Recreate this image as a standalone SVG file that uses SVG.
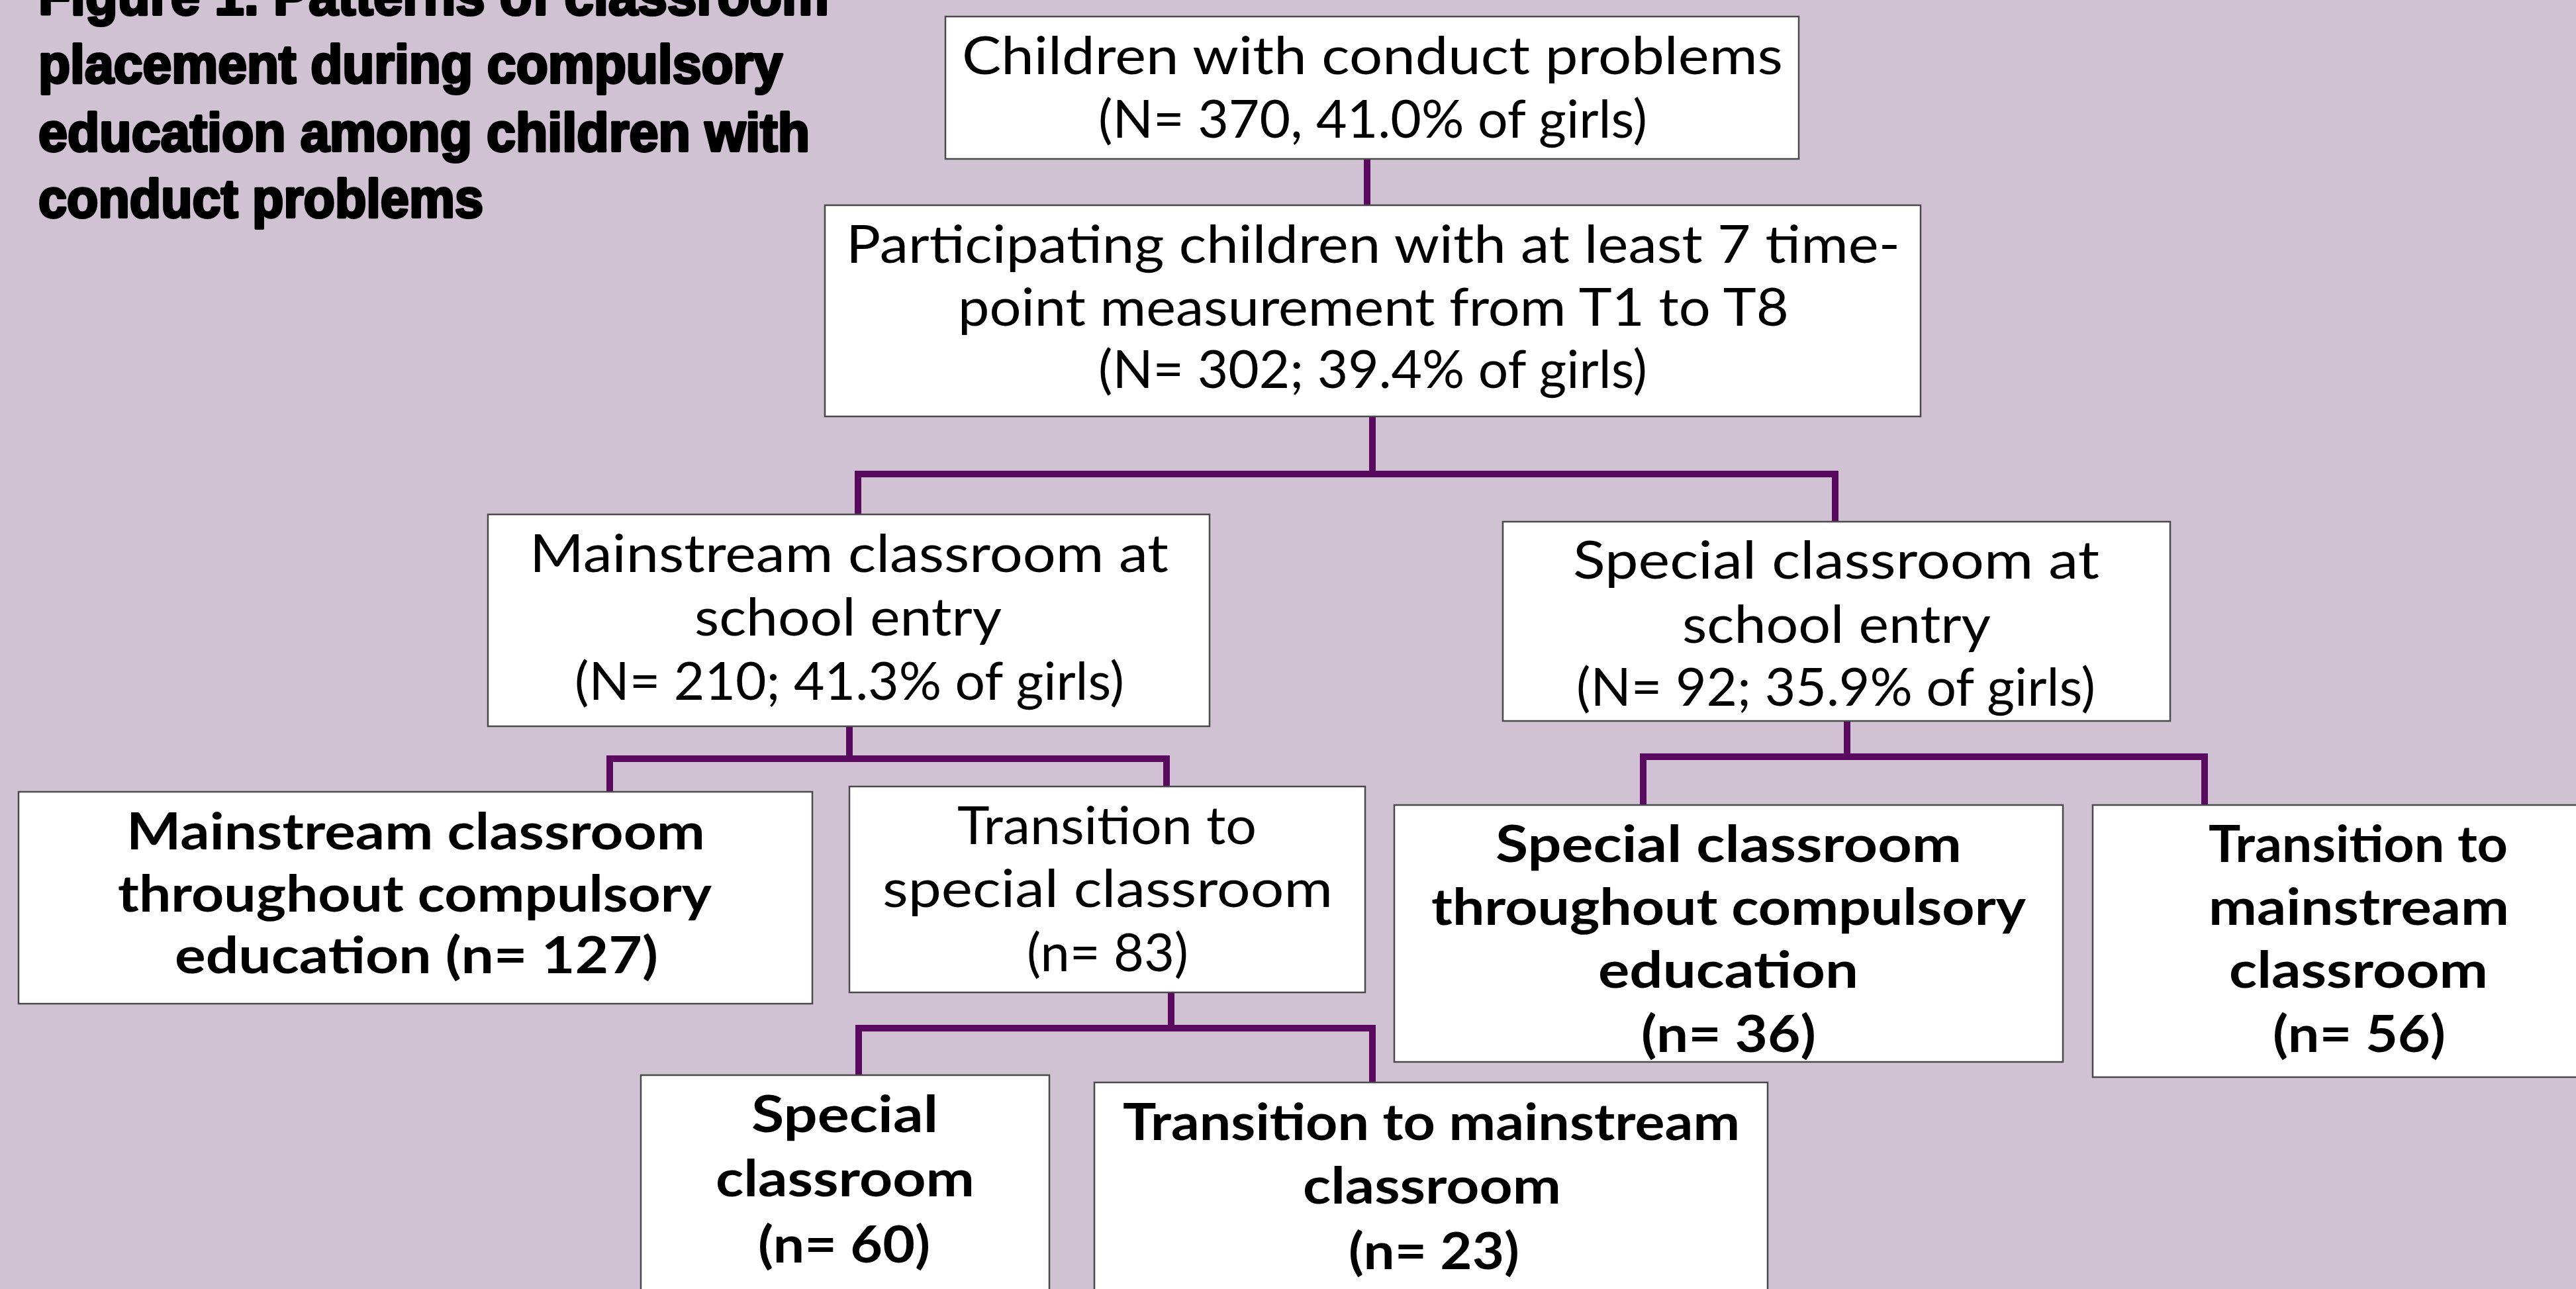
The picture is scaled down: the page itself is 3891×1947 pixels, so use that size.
<svg xmlns="http://www.w3.org/2000/svg" width="3891" height="1947" viewBox="0 0 3891 1947">
  <style>
    .bg { fill: #d1c2d3; }
    .box { fill: #ffffff; stroke: #4a4a4a; stroke-width: 2.5; }
    .reg { font-family: "Lato", "DejaVu Sans", sans-serif; font-weight: 400; font-size: 80px; fill: #000; }
    .bold { font-family: "Lato", "DejaVu Sans", sans-serif; font-weight: 700; font-size: 76px; fill: #000; }
    .title { font-family: "Liberation Sans Narrow", "Liberation Sans", sans-serif; font-weight: 700; font-size: 82px; fill: #000; stroke: #000; stroke-width: 4; stroke-linejoin: round; }
    .link { fill: none; stroke: #5a0a5e; stroke-width: 10; stroke-linejoin: miter; stroke-linecap: butt; }
  </style>

  <rect class="bg" x="0" y="0" width="3891" height="1947"/>

  <!-- Figure caption (first line runs off the top edge) -->
  <g id="title">
    <text class="title" x="58" y="22" textLength="1194" lengthAdjust="spacingAndGlyphs">Figure 1. Patterns of classroom</text>
    <text class="title" x="58" y="125" textLength="1124" lengthAdjust="spacingAndGlyphs">placement during compulsory</text>
    <text class="title" x="58" y="228" textLength="1165" lengthAdjust="spacingAndGlyphs">education among children with</text>
    <text class="title" x="58" y="328" textLength="672" lengthAdjust="spacingAndGlyphs">conduct problems</text>
  </g>

  <!-- Elbow connectors between levels -->
  <g id="connectors">
    <path class="link" d="M2065 240 V310"/>
    <path class="link" d="M2073 629 V716"/>
    <path class="link" d="M1296 777 V716 H2772 V788"/>
    <path class="link" d="M1283 1097 V1146"/>
    <path class="link" d="M921 1196 V1146 H1762 V1188"/>
    <path class="link" d="M2790 1089 V1143"/>
    <path class="link" d="M2482 1216 V1143 H3330 V1216"/>
    <path class="link" d="M1769 1499 V1553"/>
    <path class="link" d="M1297 1624 V1553 H2073 V1635"/>
  </g>

  <g id="node-all">
    <rect class="box" x="1428" y="25" width="1289" height="215"/>
    <text class="reg" x="1453" y="112" textLength="1240" lengthAdjust="spacingAndGlyphs">Children with conduct problems</text>
    <text class="reg" x="1659" y="208" textLength="829" lengthAdjust="spacingAndGlyphs">(N= 370, 41.0% of girls)</text>
  </g>

  <g id="node-participating">
    <rect class="box" x="1246" y="310" width="1655" height="319"/>
    <text class="reg" x="1278" y="397" textLength="1592" lengthAdjust="spacingAndGlyphs">Participating children with at least 7 time-</text>
    <text class="reg" x="1447" y="492" textLength="1255" lengthAdjust="spacingAndGlyphs">point measurement from T1 to T8</text>
    <text class="reg" x="1659" y="586" textLength="829" lengthAdjust="spacingAndGlyphs">(N= 302; 39.4% of girls)</text>
  </g>

  <g id="node-mainstream-entry">
    <rect class="box" x="737" y="777" width="1090" height="320"/>
    <text class="reg" x="800" y="864" textLength="965" lengthAdjust="spacingAndGlyphs">Mainstream classroom at</text>
    <text class="reg" x="1049" y="960" textLength="464" lengthAdjust="spacingAndGlyphs">school entry</text>
    <text class="reg" x="868" y="1057" textLength="830" lengthAdjust="spacingAndGlyphs">(N= 210; 41.3% of girls)</text>
  </g>

  <g id="node-special-entry">
    <rect class="box" x="2270" y="788" width="1008" height="301"/>
    <text class="reg" x="2376" y="874" textLength="795" lengthAdjust="spacingAndGlyphs">Special classroom at</text>
    <text class="reg" x="2541" y="971" textLength="466" lengthAdjust="spacingAndGlyphs">school entry</text>
    <text class="reg" x="2381" y="1066" textLength="784" lengthAdjust="spacingAndGlyphs">(N= 92; 35.9% of girls)</text>
  </g>

  <g id="node-mainstream-throughout">
    <rect class="box" x="28" y="1196" width="1199" height="320"/>
    <text class="bold" x="191" y="1283" textLength="874" lengthAdjust="spacingAndGlyphs">Mainstream classroom</text>
    <text class="bold" x="178" y="1377" textLength="897" lengthAdjust="spacingAndGlyphs">throughout compulsory</text>
    <text class="bold" x="264" y="1470" textLength="730" lengthAdjust="spacingAndGlyphs">education (n= 127)</text>
  </g>

  <g id="node-to-special">
    <rect class="box" x="1283" y="1188" width="779" height="311"/>
    <text class="reg" x="1446" y="1275" textLength="452" lengthAdjust="spacingAndGlyphs">Transition to</text>
    <text class="reg" x="1333" y="1370" textLength="680" lengthAdjust="spacingAndGlyphs">special classroom</text>
    <text class="reg" x="1551" y="1467" textLength="244" lengthAdjust="spacingAndGlyphs">(n= 83)</text>
  </g>

  <g id="node-special-throughout">
    <rect class="box" x="2106" y="1216" width="1010" height="388"/>
    <text class="bold" x="2259" y="1302" textLength="704" lengthAdjust="spacingAndGlyphs">Special classroom</text>
    <text class="bold" x="2162" y="1397" textLength="898" lengthAdjust="spacingAndGlyphs">throughout compulsory</text>
    <text class="bold" x="2414" y="1492" textLength="393" lengthAdjust="spacingAndGlyphs">education</text>
    <text class="bold" x="2479" y="1589" textLength="264" lengthAdjust="spacingAndGlyphs">(n= 36)</text>
  </g>

  <g id="node-to-mainstream">
    <rect class="box" x="3161" y="1216" width="760" height="411"/>
    <text class="bold" x="3336" y="1302" textLength="452" lengthAdjust="spacingAndGlyphs">Transition to</text>
    <text class="bold" x="3336" y="1397" textLength="454" lengthAdjust="spacingAndGlyphs">mainstream</text>
    <text class="bold" x="3367" y="1492" textLength="391" lengthAdjust="spacingAndGlyphs">classroom</text>
    <text class="bold" x="3433" y="1589" textLength="261" lengthAdjust="spacingAndGlyphs">(n= 56)</text>
  </g>

  <g id="node-special-stay">
    <rect class="box" x="968" y="1624" width="617" height="360"/>
    <text class="bold" x="1135" y="1710" textLength="282" lengthAdjust="spacingAndGlyphs">Special</text>
    <text class="bold" x="1081" y="1807" textLength="391" lengthAdjust="spacingAndGlyphs">classroom</text>
    <text class="bold" x="1145" y="1907" textLength="260" lengthAdjust="spacingAndGlyphs">(n= 60)</text>
  </g>

  <g id="node-back-to-mainstream">
    <rect class="box" x="1653" y="1635" width="1017" height="350"/>
    <text class="bold" x="1696" y="1722" textLength="932" lengthAdjust="spacingAndGlyphs">Transition to mainstream</text>
    <text class="bold" x="1968" y="1818" textLength="390" lengthAdjust="spacingAndGlyphs">classroom</text>
    <text class="bold" x="2037" y="1917" textLength="258" lengthAdjust="spacingAndGlyphs">(n= 23)</text>
  </g>
</svg>
